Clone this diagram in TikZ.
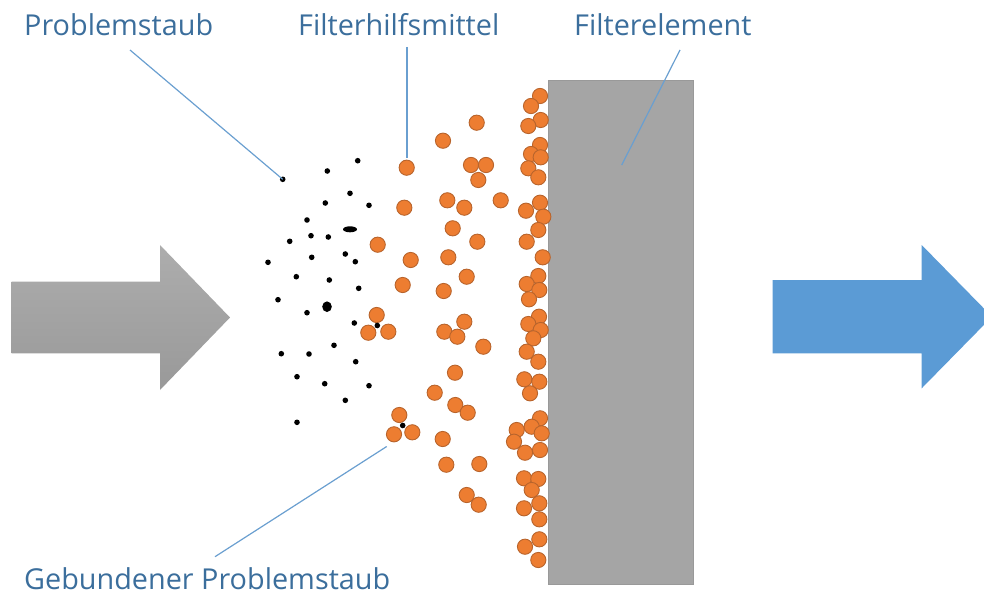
\documentclass[tikz,border=0pt]{standalone}
\usepackage{fontspec}
\setmainfont{Open Sans}
\definecolor{txt}{HTML}{3B6E9C}
\definecolor{lead}{HTML}{6A9FD0}
\definecolor{org}{HTML}{ED7D31}
\definecolor{orgd}{HTML}{B8642C}
\definecolor{filt}{HTML}{A5A5A5}
\definecolor{filtd}{HTML}{999999}
\definecolor{blu}{HTML}{5B9BD5}
\definecolor{grayT}{HTML}{ADADAD}
\definecolor{grayB}{HTML}{999999}
\tikzset{
  lbl/.style={anchor=base west, inner sep=0pt, text=txt, font=\fontsize{28.8}{34}\selectfont},
  leader/.style={draw=lead, line width=1.2pt},
  opart/.style={fill=org, draw=orgd, line width=0.9pt},
  dust/.style={fill=black}
}
\begin{document}
\begin{tikzpicture}[x=1pt,y=-1pt]
\useasboundingbox (0,0) rectangle (984,594);
\clip (0,0) rectangle (984,594);
% gray arrow
\shade[top color=grayT, bottom color=grayB] (11.7,281.7) -- (160,281.7) -- (160,245) -- (230,317.5) -- (160,390) -- (160,353.3) -- (11.7,353.3) -- cycle;
% blue arrow
\fill[blu] (772.7,280) -- (921.7,280) -- (921.7,245) -- (992,316.7) -- (921.7,388.3) -- (921.7,353.3) -- (772.7,353.3) -- cycle;
% filter element
\node[draw=filtd, fill=filt, line width=0.8pt, minimum width=145pt, minimum height=504pt, inner sep=0pt, anchor=north west] (fe) at (548.3,79.5) {};
% wall particles
\foreach \x/\y in {540/96, 531/106, 540.7/120, 528.3/126, 540/145, 531/154, 540.7/157.3, 528.3/168.3, 538.3/177.3,
  540/202.7, 526/210.7, 543.3/216.7, 538.3/230, 526.7/241.7, 542.7/257.3, 538.3/276, 526.7/284, 539.3/290, 529/299.3,
  539/316.7, 528.3/324, 540.7/330, 533.3/338.3, 526.7/351.7, 538.3/361.7, 524.3/379.3, 539.3/381.7, 530/393.3,
  540/418.3, 531.7/426.7, 516.7/430, 541.7/433.3, 514/441.7, 540/450, 525/452.7,
  524/478.3, 538.3/479, 531.7/490, 539.3/503.3, 524/508.3, 539.3/519.3, 539.3/539.3, 525/546.7, 538.3/560}
  \path[opart] (\x,\y) circle[radius=7.6];
% free particles
\foreach \x/\y in {476.7/122.7, 443/140.7, 406.7/167.7, 471/165, 486/165, 478.3/180, 447.3/200.3, 464.3/207.7, 500.7/200.3,
  404.3/207.7, 452.7/228.3, 377.7/244.7, 477.3/241.7, 410.7/260, 448.3/257.3, 402.7/285, 466.7/276.7, 443.7/291,
  376.7/315, 368.3/332.7, 388.3/331.7, 464.3/321.7, 444.3/331.7, 457.3/336.7, 483.3/346.7, 455/372.7, 434.7/392.7,
  455.3/405, 467.7/412.7, 399.3/415, 394/434.3, 412.3/432.3, 442.7/439, 446.3/464.7, 479.3/464, 466.7/495, 478.7/504.7}
  \path[opart] (\x,\y) circle[radius=7.6];
% dust
\foreach \x/\y in {357.7/160.7, 327.3/171, 282.7/179.3, 350/193.3, 325.3/203, 369/205.3, 307/220, 311/235.7, 328.3/237,
  289.7/241.3, 311.7/257.3, 345.3/254, 355.3/261.7, 268/262.3, 296.3/276.7, 329.3/280, 358.7/288.3, 278/299.7,
  307/312.7, 354.3/323, 377.3/325.5, 334/345.3, 281.3/353.7, 309/354, 355.7/361.7, 297/376.7, 324.7/383.7, 369/385.7,
  345.3/400.3, 297/422.3, 402.7/425.5}
  \fill[dust] (\x,\y) circle[radius=2.8];
\fill[dust] (327,306.7) ellipse[x radius=4.8, y radius=5.3];
\fill[dust] (350,229.3) ellipse[x radius=7, y radius=3];
% labels
\node[lbl] (l1) at (24,36) {Problemstaub};
\node[lbl] (l2) at (298,36) {Filterhilfsmittel};
\node[lbl] (l3) at (574,36) {Filterelement};
\node[lbl] (l4) at (24,589) {Gebundener Problemstaub};
\coordinate (e1) at (282.7,179.3);
\coordinate (e2) at (407,158);
\coordinate (e3) at (621.7,165);
\coordinate (e4) at (386.7,446.5);
\draw[leader] (130,50) -- (e1);
\draw[leader] (407,47) -- (e2);
\draw[leader] (680,50) -- (e3);
\draw[leader] (215,556.7) -- (e4);
\end{tikzpicture}
\end{document}
